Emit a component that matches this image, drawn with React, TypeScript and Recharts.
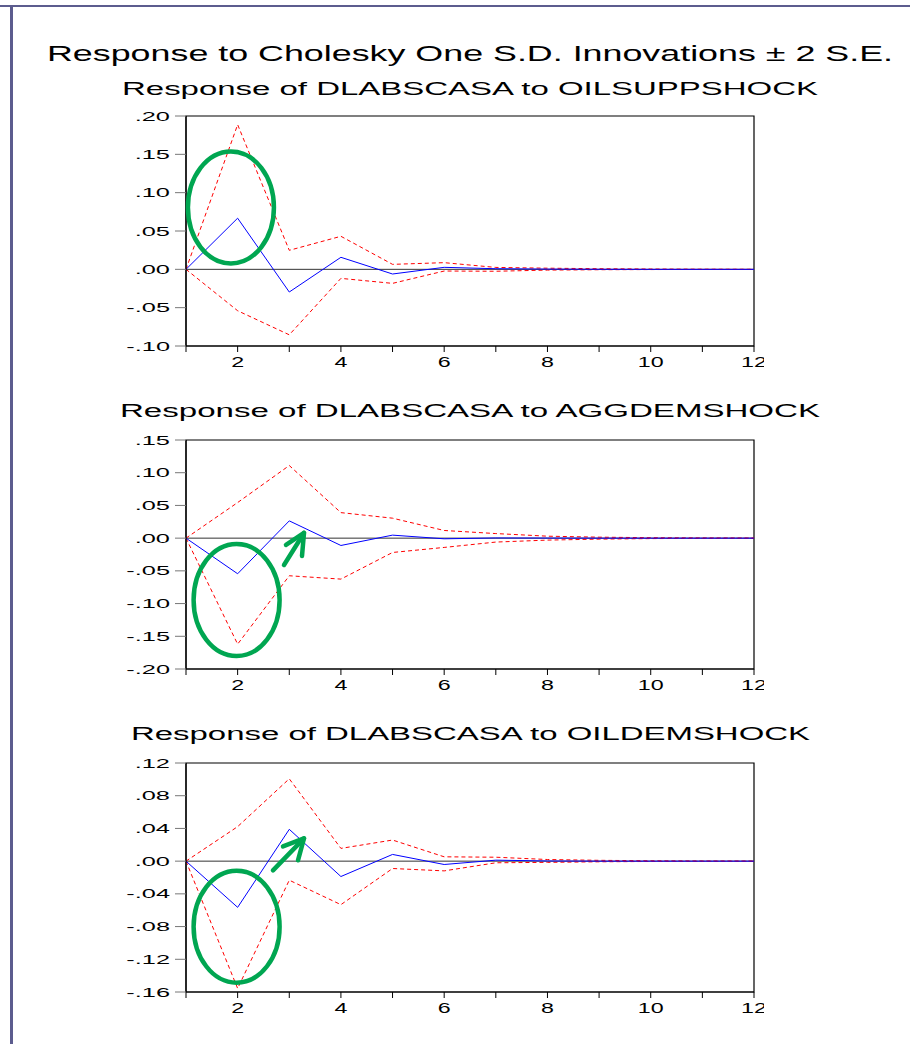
import React from "react";
import {
  LineChart,
  Line,
  XAxis,
  YAxis,
  ReferenceLine,
  ReferenceArea,
  ReferenceDot,
} from "recharts";

const periods = [1, 2, 3, 4, 5, 6, 7, 8, 9, 10, 11, 12];

// Response of DLABSCASA to OILSUPPSHOCK
const oilSuppResp = [0, 0.0667, -0.0296, 0.0157, -0.0061, 0.0026, 0.0008, 0.0003, 0.0001, 0, 0, 0];
const oilSuppUpper = [0, 0.1887, 0.0248, 0.0431, 0.0065, 0.0087, 0.0025, 0.0015, 0.0008, 0.0004, 0.0002, 0.0001];
const oilSuppLower = [0, -0.054, -0.0854, -0.0118, -0.0183, -0.0022, -0.0025, -0.001, -0.0005, -0.0003, -0.0001, -0.0001];
const oilSuppTicks = [-0.1, -0.05, 0, 0.05, 0.1, 0.15, 0.2];

// Response of DLABSCASA to AGGDEMSHOCK
const aggDemResp = [0, -0.0544, 0.0264, -0.0112, 0.0046, -0.001, 0.0003, 0.0001, 0, 0, 0, 0];
const aggDemUpper = [0, 0.0544, 0.111, 0.039, 0.0305, 0.0117, 0.007, 0.003, 0.0015, 0.0007, 0.0003, 0.0001];
const aggDemLower = [0, -0.162, -0.0575, -0.0626, -0.0219, -0.0142, -0.006, -0.003, -0.0015, -0.0007, -0.0003, -0.0001];
const aggDemTicks = [-0.2, -0.15, -0.1, -0.05, 0, 0.05, 0.1, 0.15];

// Response of DLABSCASA to OILDEMSHOCK
const oilDemResp = [0, -0.0565, 0.0389, -0.0188, 0.0082, -0.0041, 0.0012, 0.0002, 0, 0, 0, 0];
const oilDemUpper = [0, 0.0422, 0.1007, 0.0156, 0.0258, 0.0053, 0.0048, 0.002, 0.001, 0.0005, 0.0002, 0.0001];
const oilDemLower = [0, -0.1556, -0.0233, -0.0532, -0.009, -0.0119, -0.002, -0.0015, -0.0008, -0.0004, -0.0002, -0.0001];
const oilDemTicks = [-0.16, -0.12, -0.08, -0.04, 0, 0.04, 0.08, 0.12];

const FONT = "'Liberation Sans', Arial, sans-serif";
const GREEN = "#00a651";

const charEm: Record<string, number> = { ".": 0.278, "-": 0.333 };
const textWidth = (s: string, size: number) =>
  s.split("").reduce((w, c) => w + (charEm[c] ?? 0.556), 0) * size;

const fmtY = (v: number) => {
  const r = Math.round(v * 100) / 100;
  const s = Math.abs(r).toFixed(2).replace(/^0/, "");
  return (r < 0 ? "-" : "") + s;
};

function YTick(props: any) {
  const { x, y, payload } = props;
  const label = fmtY(payload.value);
  return (
    <text
      x={x}
      y={y}
      dy="0.355em"
      textAnchor="end"
      fontSize={13}
      fontFamily={FONT}
      fill="#000"
      textLength={textWidth(label, 13) * 1.95}
      lengthAdjust="spacingAndGlyphs"
    >
      {label}
    </text>
  );
}

function XTick(props: any) {
  const { x, y, payload } = props;
  if (payload.value % 2 !== 0) return <g />;
  const label = String(payload.value);
  return (
    <text
      x={x}
      y={y}
      dy="0.71em"
      textAnchor="middle"
      fontSize={15}
      fontFamily={FONT}
      fill="#000"
      textLength={textWidth(label, 15) * 1.55}
      lengthAdjust="spacingAndGlyphs"
    >
      {label}
    </text>
  );
}

const ellipseShape = (p: any) => (
  <ellipse cx={p.cx} cy={p.cy} rx={43} ry={56} fill="none" stroke={GREEN} strokeWidth={4.5} />
);

// arrow drawn back from its tip
const arrowShape = (tail: [number, number], armA: [number, number], armB: [number, number]) => (p: any) => (
  <g stroke={GREEN} strokeWidth={4.5} fill="none" strokeLinecap="round" strokeLinejoin="round">
    <line x1={p.cx + tail[0]} y1={p.cy + tail[1]} x2={p.cx} y2={p.cy} />
    <polyline points={`${p.cx + armA[0]},${p.cy + armA[1]} ${p.cx},${p.cy} ${p.cx + armB[0]},${p.cy + armB[1]}`} />
  </g>
);

type PanelProps = {
  top: number;
  plotH: number;
  resp: number[];
  upper: number[];
  lower: number[];
  yTicks: number[];
  ellipse: { x: number; y: number };
  arrow?: { x: number; y: number; tail: [number, number]; armA: [number, number]; armB: [number, number] };
};

function Panel({ top, plotH, resp, upper, lower, yTicks, ellipse, arrow }: PanelProps) {
  const data = periods.map((p, i) => ({ period: p, resp: resp[i], upper: upper[i], lower: lower[i] }));
  const yMin = yTicks[0];
  const yMax = yTicks[yTicks.length - 1];
  return (
    <div style={{ position: "absolute", left: 110, top }}>
      <LineChart width={654} height={plotH + 40} data={data} margin={{ top: 10, right: 10, left: 0, bottom: 0 }}>
        <XAxis
          dataKey="period"
          type="number"
          domain={[1, 12]}
          ticks={periods}
          interval={0}
          tickSize={6}
          tickMargin={4}
          height={30}
          axisLine={{ stroke: "#000", strokeWidth: 1.2 }}
          tickLine={{ stroke: "#000" }}
          tick={<XTick />}
        />
        <YAxis
          type="number"
          domain={[yMin, yMax]}
          ticks={yTicks}
          interval={0}
          width={76}
          tickSize={11}
          tickMargin={5}
          allowDataOverflow
          axisLine={{ stroke: "#000", strokeWidth: 1.2 }}
          tickLine={{ stroke: "#777" }}
          tick={<YTick />}
        />
        <ReferenceArea x1={1} x2={12} y1={yMin} y2={yMax} fill="none" stroke="#000" strokeWidth={1.2} />
        <ReferenceLine y={0} stroke="#333" strokeWidth={1} />
        <Line type="linear" dataKey="upper" stroke="#ff0000" strokeWidth={1} strokeDasharray="4 3" dot={false} isAnimationActive={false} />
        <Line type="linear" dataKey="lower" stroke="#ff0000" strokeWidth={1} strokeDasharray="4 3" dot={false} isAnimationActive={false} />
        <Line type="linear" dataKey="resp" stroke="#0000ff" strokeWidth={1} dot={false} isAnimationActive={false} />
        <ReferenceDot x={ellipse.x} y={ellipse.y} shape={ellipseShape} />
        {arrow && (
          <ReferenceDot x={arrow.x} y={arrow.y} shape={arrowShape(arrow.tail, arrow.armA, arrow.armB)} />
        )}
      </LineChart>
    </div>
  );
}

export default function App() {
  const titleProps = {
    textAnchor: "middle" as const,
    fontFamily: FONT,
    fill: "#000",
    lengthAdjust: "spacingAndGlyphs" as const,
  };
  return (
    <div
      style={{
        position: "absolute",
        left: 0,
        top: 0,
        width: 910,
        height: 1044,
        overflow: "hidden",
        background: "#fff",
        fontFamily: FONT,
      }}
    >
      <div style={{ position: "absolute", left: 0, top: 5, width: 910, height: 2, background: "#5c5c8e" }} />
      <div style={{ position: "absolute", left: 10, top: 5, width: 3, height: 1039, background: "#5c5c8e" }} />
      <svg width={910} height={1044} style={{ position: "absolute", left: 0, top: 0 }}>
        <text x={470} y={61} fontSize={22} textLength={846} {...titleProps}>
          Response to Cholesky One S.D. Innovations ± 2 S.E.
        </text>
        <text x={470} y={95} fontSize={18} textLength={696} {...titleProps}>
          Response of DLABSCASA to OILSUPPSHOCK
        </text>
        <text x={470} y={417} fontSize={18} textLength={700} {...titleProps}>
          Response of DLABSCASA to AGGDEMSHOCK
        </text>
        <text x={470.5} y={740} fontSize={18} textLength={679} {...titleProps}>
          Response of DLABSCASA to OILDEMSHOCK
        </text>
      </svg>
      <Panel
        top={106}
        plotH={230}
        resp={oilSuppResp}
        upper={oilSuppUpper}
        lower={oilSuppLower}
        yTicks={oilSuppTicks}
        ellipse={{ x: 1.87, y: 0.0807 }}
      />
      <Panel
        top={430}
        plotH={229}
        resp={aggDemResp}
        upper={aggDemUpper}
        lower={aggDemLower}
        yTicks={aggDemTicks}
        ellipse={{ x: 1.98, y: -0.0945 }}
        arrow={{ x: 3.285, y: 0.0079, tail: [-20, 32], armA: [-18, 12], armB: [-2, 23] }}
      />
      <Panel
        top={753}
        plotH={229}
        resp={oilDemResp}
        upper={oilDemUpper}
        lower={oilDemLower}
        yTicks={oilDemTicks}
        ellipse={{ x: 1.98, y: -0.0801 }}
        arrow={{ x: 3.285, y: 0.0279, tail: [-31, 32], armA: [-21, 8], armB: [-6, 22] }}
      />
    </div>
  );
}
